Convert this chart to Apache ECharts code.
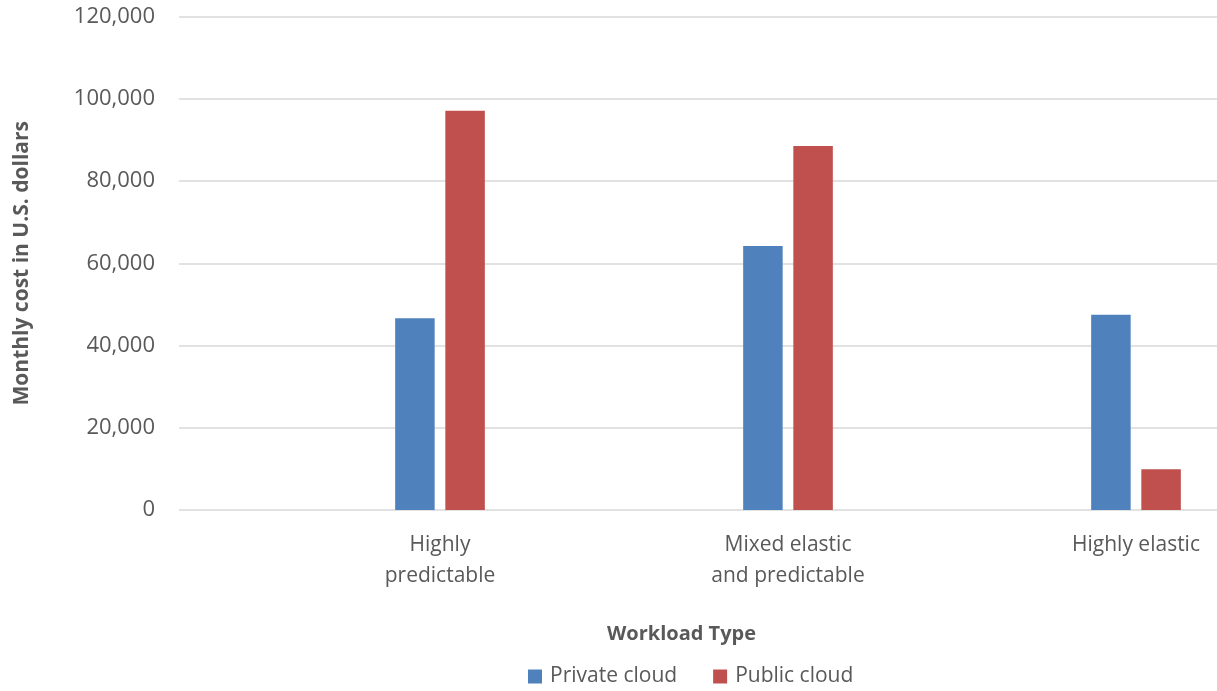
<!DOCTYPE html>
<html>
<head>
<meta charset="utf-8">
<script src="https://cdn.jsdelivr.net/npm/echarts@6/dist/echarts.min.js"></script>
<style>
  html, body { margin: 0; padding: 0; background: #fff; }
  #chart { width: 1217px; height: 691px; }
</style>
</head>
<body>
<div id="chart"></div>
<script>
// Workload types on the x axis
const categories = ['Highly\npredictable', 'Mixed elastic\nand predictable', 'Highly elastic'];
// Monthly cost in U.S. dollars per deployment model
const privateCloud = [46600, 64200, 47500];
const publicCloud = [97100, 88500, 9900];
// Value axis range
const yMin = 0;
const yMax = 120000;
const yStep = 20000;

const FONT = '"Open Sans", sans-serif';
const TEXT = '#595959';

const chart = echarts.init(document.getElementById('chart'));

const plotTop = 16.5;
const plotHeight = 493.5;

chart.setOption({
  animation: false,
  textStyle: { fontFamily: FONT },
  grid: [
    // frame for gridlines and the value axis
    { left: 179, width: 1038, top: plotTop, height: plotHeight, outerBoundsMode: 'none', containLabel: false },
    // frame holding the bars and category labels (runs past the right edge)
    { left: 266, width: 1044, top: plotTop, height: plotHeight, outerBoundsMode: 'none', containLabel: false }
  ],
  legend: {
    data: ['Private cloud', 'Public cloud'],
    left: 528,
    top: 666,
    padding: 0,
    itemWidth: 14,
    itemHeight: 14,
    itemGap: 36,
    icon: 'rect',
    textStyle: { fontFamily: FONT, fontSize: 21, color: TEXT, padding: [0, 0, 0, 3] }
  },
  xAxis: [
    {
      gridIndex: 0, type: 'value', min: 0, max: 1, show: false
    },
    {
      gridIndex: 1,
      type: 'category',
      data: categories,
      axisLine: { show: false },
      axisTick: { show: false },
      axisLabel: {
        fontFamily: FONT, fontSize: 21, color: TEXT, margin: 20, lineHeight: 31
      }
    }
  ],
  yAxis: [
    {
      gridIndex: 0,
      type: 'value',
      min: yMin, max: yMax, interval: yStep,
      name: 'Monthly cost in U.S. dollars',
      nameLocation: 'middle',
      nameGap: 146,
      nameTextStyle: { fontFamily: FONT, fontSize: 21, fontWeight: 'bold', color: TEXT },
      axisLine: { show: false },
      axisTick: { show: false },
      axisLabel: {
        fontFamily: FONT, fontSize: 22, color: TEXT, margin: 24,
        formatter: v => v.toLocaleString('en-US')
      },
      splitLine: { lineStyle: { color: '#D9D9D9', width: 1.5 } }
    },
    {
      gridIndex: 1,
      type: 'value',
      min: yMin, max: yMax, interval: yStep,
      show: false,
      splitLine: { show: false }
    }
  ],
  graphic: [
    {
      type: 'text',
      left: 607,
      top: 624,
      style: {
        text: 'Workload Type',
        font: 'bold 20px ' + FONT,
        fill: TEXT
      }
    }
  ],
  series: [
    {
      name: 'Private cloud',
      type: 'bar',
      xAxisIndex: 1, yAxisIndex: 1,
      data: privateCloud,
      barWidth: 39.5,
      barGap: '27%',
      itemStyle: { color: '#4F81BD' }
    },
    {
      name: 'Public cloud',
      type: 'bar',
      xAxisIndex: 1, yAxisIndex: 1,
      data: publicCloud,
      barWidth: 39.5,
      barGap: '27%',
      itemStyle: { color: '#C0504D' }
    }
  ]
});
</script>
</body>
</html>
